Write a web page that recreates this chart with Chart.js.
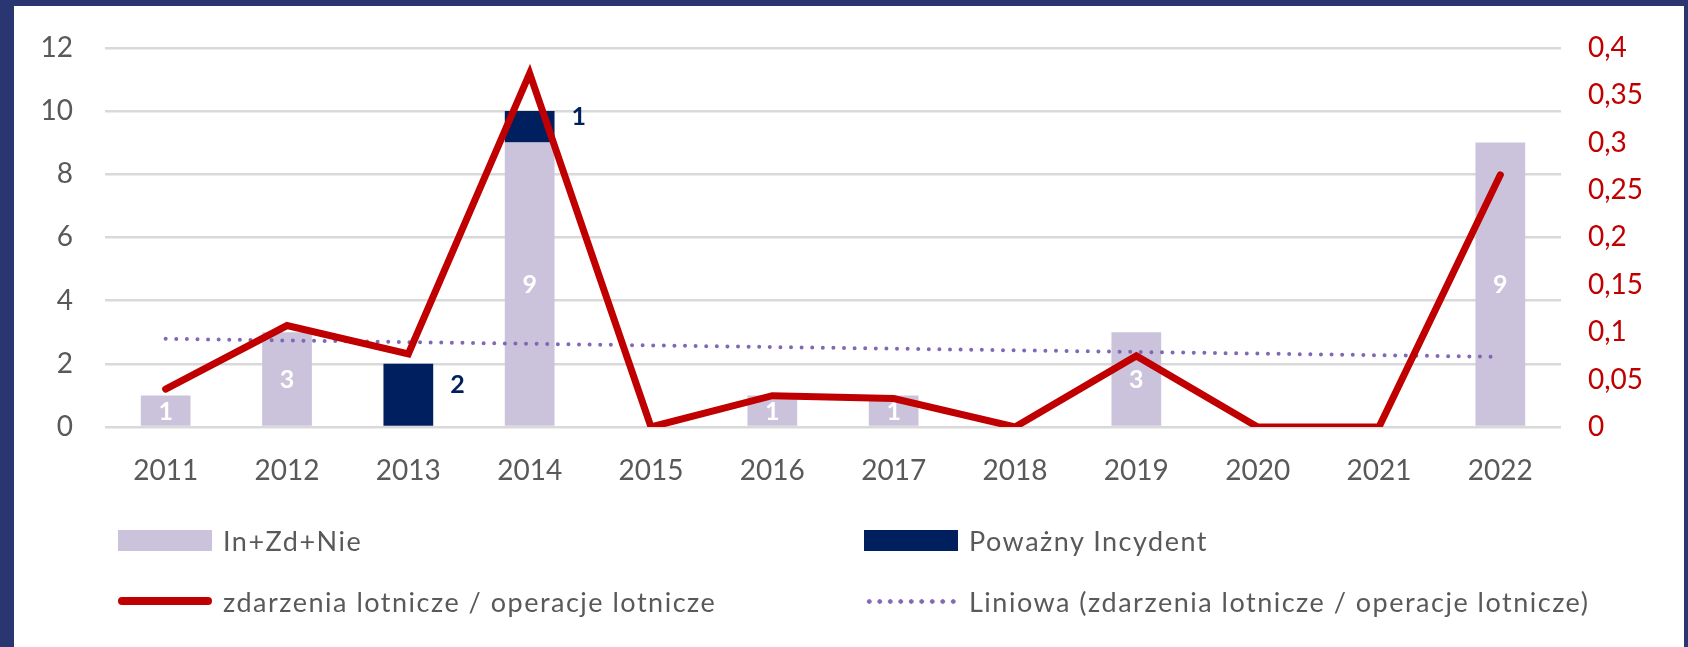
<!DOCTYPE html>
<html lang="pl">
<head>
<meta charset="utf-8">
<script src="https://cdn.jsdelivr.net/npm/chart.js@4.4.0/dist/chart.umd.min.js"></script>
<style>
  html, body { margin: 0; padding: 0; }
  body { width: 1688px; height: 647px; background: #293671; position: relative; overflow: hidden; font-family: Lato, "Noto Sans", sans-serif; }
  #panel { position: absolute; left: 14px; top: 6px; width: 1670px; height: 660px; background: #fff; }
  #chart { position: absolute; left: 0; top: -7px; }
  #legend { position: absolute; left: 0; top: 0; width: 1670px; height: 660px; pointer-events: none; }
  .item { position: absolute; display: flex; align-items: center; color: #595959; font-size: 27px; letter-spacing: 1.5px; white-space: nowrap; }
  .sw { width: 94px; margin-right: 11px; }
</style>
</head>
<body>
<div id="panel">
  <canvas id="chart" width="1670" height="507"></canvas>
  <div id="legend"></div>
</div>
<script>
// ---- dane ----
const years = ['2011','2012','2013','2014','2015','2016','2017','2018','2019','2020','2021','2022'];
const inZdNie   = [1, 3, null, 9, null, 1, 1, null, 3, null, null, 9];
const powazny   = [null, null, 2, 1, null, null, null, null, null, null, null, null];
const wskaznik  = [0.04, 0.107, 0.077, 0.373, 0, 0.033, 0.03, 0, 0.075, 0, 0, 0.266];
const trend     = [0.093, null, null, null, null, null, null, null, null, null, null, 0.074];
const leftMax = 12, leftStep = 2;
const rightMax = 0.4, rightStep = 0.05;

const labelsInZdNie = 'In+Zd+Nie';
const labelsPowazny = 'Poważny Incydent';
const labelsWsk = 'zdarzenia lotnicze / operacje lotnicze';
const labelsTrend = 'Liniowa (zdarzenia lotnicze / operacje lotnicze)';

const LIGHT = '#CBC3DC', NAVY = '#001F5F', RED = '#C00000', TREND = '#8068B4', GREY = '#595959';
const FONT = 'Lato, "Noto Sans", sans-serif';

// etykiety danych na słupkach
const barLabels = {
  id: 'barLabels',
  afterDatasetDraw(chart, args) {
    const ds = chart.data.datasets[args.index];
    if (ds.type !== 'bar') return;
    const ctx = chart.ctx;
    ctx.save();
    ctx.font = 'bold 25px ' + FONT;
    ctx.textBaseline = 'middle';
    args.meta.data.forEach((el, i) => {
      const v = ds.data[i];
      if (v == null) return;
      const p = el.getProps(['x','y','base','width'], true);
      const cy = (p.y + p.base) / 2;
      if (ds.label === labelsInZdNie) {
        ctx.fillStyle = '#fff';
        ctx.textAlign = 'center';
        ctx.fillText(String(v), p.x, cy + 1);
      } else {
        ctx.fillStyle = NAVY;
        ctx.textAlign = 'left';
        ctx.fillText(String(v), p.x + p.width / 2 + 17, cy - 10);
      }
    });
    ctx.restore();
  }
};

const chart = new Chart(document.getElementById('chart'), {
  data: {
    labels: years,
    datasets: [
      { type: 'line', label: labelsWsk, data: wskaznik, yAxisID: 'y1', order: 0,
        borderColor: RED, borderWidth: 7, pointRadius: 0, borderJoinStyle: 'miter', borderCapStyle: 'round', tension: 0 },
      { type: 'line', label: labelsTrend, data: trend, yAxisID: 'y1', order: 0, spanGaps: true,
        borderColor: TREND, borderWidth: 4, borderDash: [0, 10.6], borderCapStyle: 'round', pointRadius: 0 },
      { type: 'bar', label: labelsInZdNie, data: inZdNie, yAxisID: 'y', stack: 's', order: 1,
        backgroundColor: LIGHT, barPercentage: 0.41, categoryPercentage: 1 },
      { type: 'bar', label: labelsPowazny, data: powazny, yAxisID: 'y', stack: 's', order: 1,
        backgroundColor: NAVY, barPercentage: 0.41, categoryPercentage: 1 }
    ]
  },
  options: {
    responsive: false,
    animation: false,
    layout: { padding: { top: 34, bottom: 0, left: 0, right: 0 } },
    plugins: { legend: { display: false }, tooltip: { enabled: false } },
    scales: {
      x: {
        stacked: true,
        grid: { display: false, drawTicks: false },
        border: { display: false },
        ticks: { color: GREY, font: { family: FONT, size: 28 }, padding: 27 },
        afterFit(s) { s.height = 79; }
      },
      y: {
        position: 'left', stacked: true, min: 0, max: leftMax,
        ticks: { stepSize: leftStep, color: GREY, font: { family: FONT, size: 28 }, padding: 32 },
        grid: { color: '#D9D9D9', lineWidth: 2.5, drawTicks: false },
        border: { display: false },
        afterFit(s) { s.width = 91; }
      },
      y1: {
        position: 'right', min: 0, max: rightMax,
        ticks: { stepSize: rightStep, color: RED, font: { family: FONT, size: 28 }, padding: 27,
          callback: v => String(Math.round(v * 100) / 100).replace('.', ',') },
        grid: { display: false, drawTicks: false },
        border: { display: false },
        afterFit(s) { s.width = 123; }
      }
    }
  },
  plugins: [barLabels]
});

// legenda HTML
const legend = document.getElementById('legend');
const items = [
  { ds: chart.data.datasets[2], x: 104, y: 534, kind: 'box' },
  { ds: chart.data.datasets[3], x: 850, y: 534, kind: 'box' },
  { ds: chart.data.datasets[0], x: 104, y: 595, kind: 'line' },
  { ds: chart.data.datasets[1], x: 850, y: 595, kind: 'dot' }
];
items.forEach(it => {
  const d = document.createElement('div');
  d.className = 'item';
  d.style.left = it.x + 'px';
  d.style.top = (it.y - 17) + 'px';
  d.style.height = '34px';
  const sw = document.createElement('span');
  sw.className = 'sw';
  if (it.kind === 'box') {
    sw.style.height = '21px';
    sw.style.background = it.ds.backgroundColor;
  } else if (it.kind === 'line') {
    sw.style.height = '8px';
    sw.style.borderRadius = '4px';
    sw.style.background = it.ds.borderColor;
  } else {
    sw.style.height = '5px';
    sw.style.background = 'radial-gradient(circle, ' + it.ds.borderColor + ' 2px, transparent 2.5px) 0 0 / 10.5px 5px repeat-x';
  }
  const t = document.createElement('span');
  t.textContent = it.ds.label;
  d.appendChild(sw);
  d.appendChild(t);
  legend.appendChild(d);
});
</script>
</body>
</html>
